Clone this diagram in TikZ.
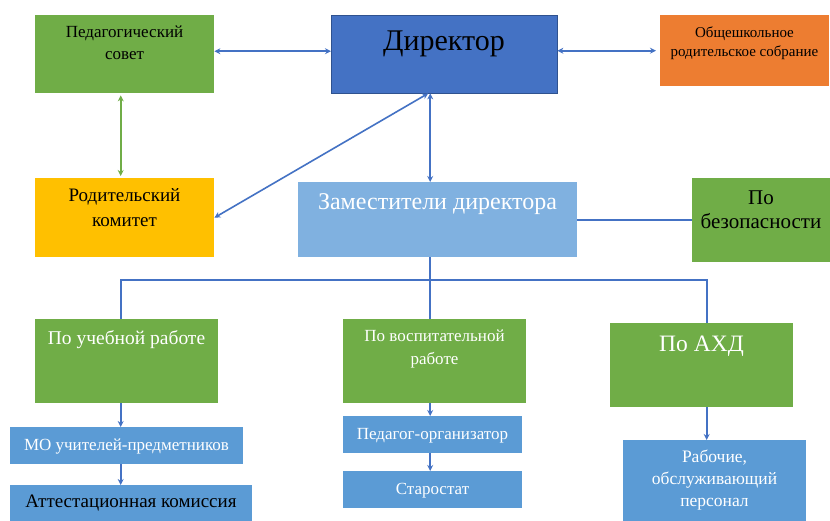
\documentclass[tikz,border=0pt]{standalone}
\usepackage{fontspec}
\setmainfont{Liberation Serif}
\usetikzlibrary{positioning,arrows.meta}
\definecolor{grn}{HTML}{70AD47}
\definecolor{dirblue}{HTML}{4472C4}
\definecolor{dirline}{HTML}{2F528F}
\definecolor{orng}{HTML}{ED7D31}
\definecolor{ylw}{HTML}{FFC000}
\definecolor{zamblue}{HTML}{80B1E0}
\definecolor{subblue}{HTML}{5B9BD5}
\definecolor{lnkblue}{HTML}{4472C4}
\tikzset{
  box/.style={rectangle, inner sep=0pt, anchor=north west},
  txt/.style={align=center, inner sep=0pt},
  lnk/.style={draw=lnkblue, line width=1.6pt, >={Stealth[length=6pt,width=6pt]}},
}

\begin{document}
\begin{tikzpicture}[x=1pt,y=-1pt]
\useasboundingbox (0,0) rectangle (830,520);
\fill[white] (0,0) rectangle (830,520);

% top row
\node[box, fill=grn, minimum width=179pt, minimum height=78pt] (ped) at (35,15) {};
\node[txt, font=\fontsize{17}{22}\selectfont] (pedt) at (124.5,43) {Педагогический\\совет};
\node[box, fill=dirblue, draw=dirline, minimum width=226pt, minimum height=78pt] (dir) at (331,15) {};
\node[txt, font=\fontsize{30}{30}\selectfont] (dirt) at (444,44) {Директор};
\node[box, fill=orng, minimum width=169pt, minimum height=71pt] (obsh) at (660,15) {};
\node[txt, font=\fontsize{15}{19}\selectfont] (obsht) at (744.5,43) {Общешкольное\\родительское собрание};

% second row
\node[box, fill=ylw, minimum width=179pt, minimum height=79pt] (rod) at (35,178) {};
\node[txt, font=\fontsize{19}{25}\selectfont] (rodt) at (124.5,208) {Родительский\\комитет};
\node[box, fill=zamblue, minimum width=279pt, minimum height=75pt] (zam) at (298,182) {};
\node[txt, white, font=\fontsize{24}{24}\selectfont] (zamt) at (437.5,204) {Заместители директора};
\node[box, fill=grn, minimum width=138pt, minimum height=84pt] (bez) at (692,178) {};
\node[txt, font=\fontsize{21}{24}\selectfont] (bezt) at (761,210) {По\\безопасности};

% deputies
\node[box, fill=grn, minimum width=183pt, minimum height=84pt] (ucheb) at (35,319) {};
\node[txt, white, font=\fontsize{19.5}{19}\selectfont] (uchebt) at (126.5,340) {По учебной работе};
\node[box, fill=grn, minimum width=183pt, minimum height=84pt] (vosp) at (343,319) {};
\node[txt, white, font=\fontsize{17}{23}\selectfont] (vospt) at (434.5,349) {По воспитательной\\работе};
\node[box, fill=grn, minimum width=183pt, minimum height=84pt] (ahd) at (610,323) {};
\node[txt, white, font=\fontsize{23.5}{24}\selectfont] (ahdt) at (701.5,346) {По АХД};

% subordinate units
\node[box, fill=subblue, minimum width=233pt, minimum height=37pt] (mo) at (10,427) {};
\node[txt, white, font=\fontsize{17}{17}\selectfont] (mot) at (126.5,447) {МО учителей-предметников};
\node[box, fill=subblue, minimum width=242pt, minimum height=40pt] (att) at (10,485) {};
\node[txt, font=\fontsize{19}{19}\selectfont] (attt) at (131,503) {Аттестационная комиссия};
\node[box, fill=subblue, minimum width=179pt, minimum height=37pt] (porg) at (343,416) {};
\node[txt, white, font=\fontsize{17}{17}\selectfont] (porgt) at (432.5,436) {Педагог-организатор};
\node[box, fill=subblue, minimum width=179pt, minimum height=37pt] (star) at (343,471) {};
\node[txt, white, font=\fontsize{17}{17}\selectfont] (start) at (432.5,491) {Старостат};
\node[box, fill=subblue, minimum width=183pt, minimum height=85pt] (rab) at (623,440) {};
\node[txt, white, font=\fontsize{17.5}{22}\selectfont] (rabt) at (714.5,480) {Рабочие,\\обслуживающий\\персонал};

% connectors
\coordinate (dj) at ([xshift=-14pt]dir.south);
\coordinate (bus) at (430,280);
\draw[lnk,<->] ([yshift=3pt]ped.east) -- ([yshift=3pt]dir.west);
\draw[lnk,<->] (dir.east |- obsh) -- ([xshift=-4pt]obsh.west);
\draw[lnk,draw=grn,<->] ([xshift=-4pt,yshift=-2pt]ped.south) -- ([xshift=-4pt,yshift=2pt]rod.north);
\draw[lnk,<->] (dj) -- (zam.north -| dj);
\draw[lnk,<->] ([xshift=-2pt]dj) -- (rod.east);
\draw[lnk] (zam.east |- bez) -- (bez.west);
\draw[lnk] (zam.south -| dj) -- (vosp.north -| dj);
\draw[lnk] ([xshift=-6pt]ucheb.north) |- (bus) -| ([xshift=5pt]ahd.north);
\draw[lnk,->] ([xshift=-6pt]ucheb.south) -- ([xshift=-6pt]ucheb.south |- mo.north);
\draw[lnk,->] ([xshift=-6pt]mo.south) -- ([xshift=-6pt]mo.south |- att.north);
\draw[lnk,->] (vosp.south -| dj) -- (porg.north -| dj);
\draw[lnk,->] (porg.south -| dj) -- (star.north -| dj);
\draw[lnk,->] ([xshift=5pt]ahd.south) -- ([xshift=5pt]ahd.south |- rab.north);
\end{tikzpicture}
\end{document}
